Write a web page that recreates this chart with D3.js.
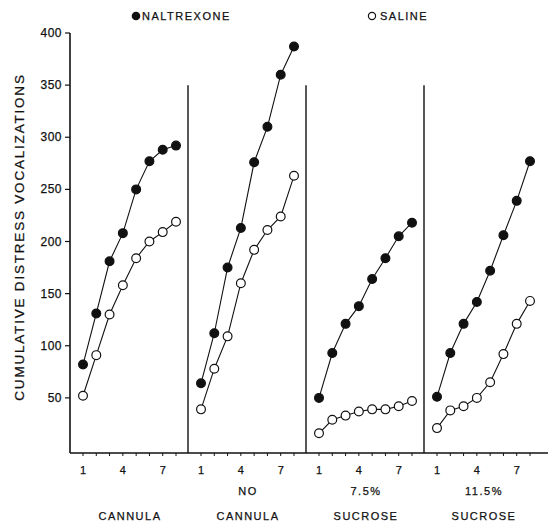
<!DOCTYPE html>
<html>
<head>
<meta charset="utf-8">
<script src="https://cdn.jsdelivr.net/npm/d3@7"></script>
<style>
  body { margin: 0; background: #fff; }
  svg text { font-family: "Liberation Sans", Arial, sans-serif; fill: #111; stroke: #111; stroke-width: 0.25; }
</style>
</head>
<body>
<svg id="chart" width="550" height="525"></svg>
<script>
// trials per condition
const trials = [1, 2, 3, 4, 5, 6, 7, 8];
const trialTicks = [1, 4, 7];

// condition labels (two lines each)
const conditions = [
  ["", "CANNULA"],
  ["NO", "CANNULA"],
  ["7.5%", "SUCROSE"],
  ["11.5%", "SUCROSE"]
];

// cumulative distress vocalizations, one row per condition
const naltrexone = [
  [82, 131, 181, 208, 250, 277, 288, 292],
  [64, 112, 175, 213, 276, 310, 360, 387],
  [50, 93, 121, 138, 164, 184, 205, 218],
  [51, 93, 121, 142, 172, 206, 239, 277]
];
const saline = [
  [52, 91, 130, 158, 184, 200, 209, 219],
  [39, 78, 109, 160, 192, 211, 224, 263],
  [16, 29, 33, 37, 39, 39, 42, 47],
  [21, 38, 42, 50, 65, 92, 121, 143]
];

const yTicks = [50, 100, 150, 200, 250, 300, 350, 400];

const svg = d3.select("#chart");

// layout
const axisX = 70, panelW = 118, rightEnd = 548;
const baseY = 453;
const y = d3.scaleLinear().domain([0, 400]).range([450, 33]);

// y axis
svg.append("line")
  .attr("x1", axisX).attr("x2", axisX)
  .attr("y1", y(400)).attr("y2", baseY)
  .attr("stroke", "#111").attr("stroke-width", 1.6);

const yAxis = svg.append("g");
yTicks.forEach(t => {
  yAxis.append("line")
    .attr("x1", axisX - 5).attr("x2", axisX)
    .attr("y1", y(t)).attr("y2", y(t))
    .attr("stroke", "#111").attr("stroke-width", 1.2);
  yAxis.append("text")
    .attr("x", axisX - 8).attr("y", y(t) + 4)
    .attr("text-anchor", "end")
    .attr("font-size", 12)
    .attr("letter-spacing", 0.5)
    .text(t);
});

svg.append("text")
  .attr("transform", `translate(24,237) rotate(-90)`)
  .attr("text-anchor", "middle")
  .attr("font-size", 13.5)
  .attr("letter-spacing", 1.8)
  .text("CUMULATIVE  DISTRESS  VOCALIZATIONS");

// x baseline
svg.append("line")
  .attr("x1", axisX).attr("x2", rightEnd)
  .attr("y1", baseY).attr("y2", baseY)
  .attr("stroke", "#111").attr("stroke-width", 1.6);

const line = d3.line();

conditions.forEach((cond, i) => {
  const left = axisX + i * panelW;
  const x = d3.scaleLinear().domain([1, 8]).range([left + 13, left + 106]);
  const g = svg.append("g");

  // panel divider
  if (i > 0) {
    g.append("line")
      .attr("x1", left).attr("x2", left)
      .attr("y1", y(350)).attr("y2", baseY)
      .attr("stroke", "#111").attr("stroke-width", 1.4);
  }

  // ticks
  trials.forEach(t => {
    g.append("line")
      .attr("x1", x(t)).attr("x2", x(t))
      .attr("y1", baseY).attr("y2", baseY + 3)
      .attr("stroke", "#111").attr("stroke-width", 1);
  });
  trialTicks.forEach(t => {
    g.append("text")
      .attr("x", x(t)).attr("y", 474)
      .attr("text-anchor", "middle")
      .attr("font-size", 11)
      .text(t);
  });

  // condition labels
  const cx = left + panelW / 2 + 1;
  g.append("text")
    .attr("x", cx).attr("y", 495)
    .attr("text-anchor", "middle")
    .attr("font-size", 11)
    .attr("letter-spacing", 1.5)
    .text(cond[0]);
  g.append("text")
    .attr("x", cx).attr("y", 520)
    .attr("text-anchor", "middle")
    .attr("font-size", 11)
    .attr("letter-spacing", 1.5)
    .text(cond[1]);

  // series
  [[saline[i], "#fff"], [naltrexone[i], "#111"]].forEach(([vals, fill]) => {
    const pts = trials.map((t, k) => [x(t), y(vals[k])]);
    g.append("path")
      .attr("d", line(pts))
      .attr("fill", "none")
      .attr("stroke", "#111")
      .attr("stroke-width", 1.1);
    g.selectAll(null)
      .data(pts)
      .enter()
      .append("circle")
      .attr("cx", d => d[0])
      .attr("cy", d => d[1])
      .attr("r", 4.4)
      .attr("fill", fill)
      .attr("stroke", "#111")
      .attr("stroke-width", 1.2);
  });
});

// legend
const legend = svg.append("g");
legend.append("circle").attr("cx", 136).attr("cy", 16).attr("r", 4.3).attr("fill", "#111");
legend.append("text").attr("x", 142).attr("y", 20)
  .attr("font-size", 11).attr("letter-spacing", 1.5).text("NALTREXONE");
legend.append("circle").attr("cx", 372).attr("cy", 16).attr("r", 3.6)
  .attr("fill", "#fff").attr("stroke", "#111").attr("stroke-width", 1.2);
legend.append("text").attr("x", 380).attr("y", 20)
  .attr("font-size", 11).attr("letter-spacing", 1.5).text("SALINE");
</script>
</body>
</html>
